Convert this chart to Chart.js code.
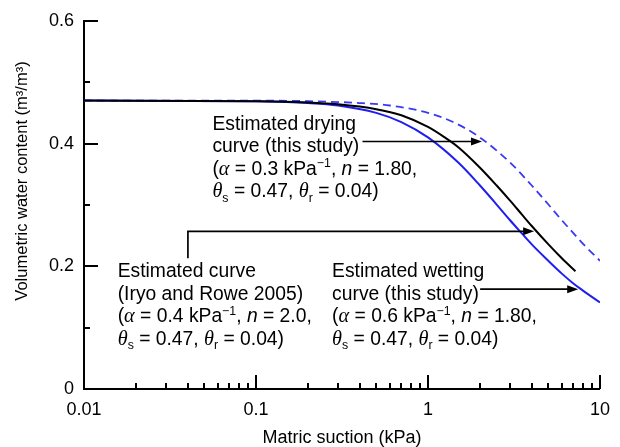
<!DOCTYPE html>
<html><head><meta charset="utf-8">
<script src="https://cdn.jsdelivr.net/npm/chart.js@4.4.1/dist/chart.umd.min.js"></script>
<style>html,body{margin:0;padding:0;background:#fff;}#wrap{width:620px;height:447px;}</style>
</head><body><div id="wrap"><canvas id="c" width="620" height="447"></canvas></div>
<script>
// ---- tick values / labels ----
const suctionTicks = [0.01, 0.1, 1, 10];
const suctionTickLabels = ['0.01', '0.1', '1', '10'];
const suctionMinorTicks = [0.02,0.03,0.04,0.05,0.06,0.07,0.08,0.09,0.2,0.3,0.4,0.5,0.6,0.7,0.8,0.9,2,3,4,5,6,7,8,9];
const thetaTicks = [0, 0.2, 0.4, 0.6];
const thetaTickLabels = ['0', '0.2', '0.4', '0.6'];
const thetaMinorTicks = [0.1, 0.3, 0.5];

// ---- series ----
const wettingSuction = [0.01, 0.1, 0.2, 0.3, 0.5, 0.7, 1, 1.5, 2, 2.5, 3, 3.5, 4, 5, 6, 7, 8, 10];
const wettingTheta   = [0.470, 0.469, 0.466, 0.462, 0.450, 0.435, 0.410, 0.369, 0.332, 0.301, 0.275, 0.254, 0.236, 0.209, 0.188, 0.172, 0.160, 0.141];

const iryoSuction = [0.01, 0.1, 0.2, 0.3, 0.5, 0.7, 1, 1.25, 1.5, 2, 2.5, 3, 3.5, 4, 5, 6, 7.2];
const iryoTheta   = [0.470, 0.469, 0.467, 0.464, 0.456, 0.446, 0.427, 0.410, 0.394, 0.361, 0.332, 0.307, 0.285, 0.266, 0.236, 0.213, 0.192];

const dryingSuction = [0.01, 0.1, 0.2, 0.4, 0.6, 1, 1.4, 2, 3, 4, 5, 6, 7, 8, 10];
const dryingTheta   = [0.470, 0.470, 0.469, 0.466, 0.462, 0.450, 0.435, 0.410, 0.369, 0.332, 0.301, 0.275, 0.254, 0.236, 0.209];

const xTitle = 'Matric suction (kPa)';
const yTitle = 'Volumetric water content (m\u00B3/m\u00B3)';

// annotation texts (runs: [text, style])
const dryingLabel = [
  [['Estimated drying', '']],
  [['curve (this study)', '']],
  [['(', ''], ['\u03B1', 'g'], [' = 0.3 kPa', ''], ['\u22121', 'sup'], [', ', ''], ['n', 'i'], [' = 1.80,', '']],
  [['\u03B8', 'g'], ['s', 'sub'], [' = 0.47, ', ''], ['\u03B8', 'g'], ['r', 'sub'], [' = 0.04)', '']]
];
const iryoLabel = [
  [['Estimated curve', '']],
  [['(Iryo and Rowe 2005)', '']],
  [['(', ''], ['\u03B1', 'g'], [' = 0.4 kPa', ''], ['\u22121', 'sup'], [', ', ''], ['n', 'i'], [' = 2.0,', '']],
  [['\u03B8', 'g'], ['s', 'sub'], [' = 0.47, ', ''], ['\u03B8', 'g'], ['r', 'sub'], [' = 0.04)', '']]
];
const wettingLabel = [
  [['Estimated wetting', '']],
  [['curve (this study)', '']],
  [['(', ''], ['\u03B1', 'g'], [' = 0.6 kPa', ''], ['\u22121', 'sup'], [', ', ''], ['n', 'i'], [' = 1.80,', '']],
  [['\u03B8', 'g'], ['s', 'sub'], [' = 0.47, ', ''], ['\u03B8', 'g'], ['r', 'sub'], [' = 0.04)', '']]
];

// annotation anchors in data space (suction, theta)
const notes = [
  { lines: dryingLabel,  x: 0.0558, y: 0.4228 },
  { lines: iryoLabel,    x: 0.0157, y: 0.1821 },
  { lines: wettingLabel, x: 0.277,  y: 0.1821 }
];
const arrows = [
  [[0.416, 0.4033], [2.06, 0.4033]],
  [[0.0402, 0.213], [0.0402, 0.2569], [4.14, 0.2569]],
  [[2.01, 0.1626], [7.47, 0.1626]]
];

const SANS = '"Liberation Sans", Arial, sans-serif';
const SERIF = '"Liberation Serif", "Times New Roman", serif';
const FS = 19.3;

function toPts(xs, ys) { return xs.map((x, i) => ({ x: x, y: ys[i] })); }

function drawRich(ctx, runs, x, y, size) {
  let cx = x;
  for (const [t, st] of runs) {
    let fs = size, dy = 0, fam = SANS, it = '';
    if (st === 'sup') { fs = size * 0.64; dy = -size * 0.38; }
    if (st === 'sub') { fs = size * 0.64; dy = size * 0.24; }
    if (st === 'g') { fam = SERIF; it = 'italic '; fs = size * 1.05; }
    if (st === 'i') { it = 'italic '; }
    ctx.font = it + fs + 'px ' + fam;
    ctx.fillText(t, cx, y + dy);
    cx += ctx.measureText(t).width;
  }
}

const decorPlugin = {
  id: 'decor',
  afterDraw(chart) {
    const ctx = chart.ctx, xs = chart.scales.x, ys = chart.scales.y;
    const a = chart.chartArea;
    ctx.save();
    ctx.strokeStyle = '#000'; ctx.fillStyle = '#000';
    // inward ticks
    ctx.lineWidth = 2;
    ctx.beginPath();
    for (const v of thetaTicks) { const p = Math.round(ys.getPixelForValue(v)); ctx.moveTo(a.left, p); ctx.lineTo(a.left + 14, p); }
    for (const v of thetaMinorTicks) { const p = Math.round(ys.getPixelForValue(v)); ctx.moveTo(a.left, p); ctx.lineTo(a.left + 6, p); }
    for (const v of suctionTicks) { const p = Math.round(xs.getPixelForValue(v)); ctx.moveTo(p, a.bottom); ctx.lineTo(p, a.bottom - 14); }
    for (const v of suctionMinorTicks) { const p = Math.round(xs.getPixelForValue(v)); ctx.moveTo(p, a.bottom); ctx.lineTo(p, a.bottom - 6); }
    ctx.stroke();

    // titles
    ctx.textAlign = 'center'; ctx.textBaseline = 'middle';
    ctx.font = '18px ' + SANS;
    ctx.fillText(xTitle, (a.left + a.right) / 2, 438);
    ctx.save();
    ctx.translate(22, 181); ctx.rotate(-Math.PI / 2);
    ctx.font = '16.5px ' + SANS;
    ctx.fillText(yTitle, 0, 0);
    ctx.restore();

    // arrows
    ctx.lineWidth = 1.7;
    for (const path of arrows) {
      const pts = path.map(p => [xs.getPixelForValue(p[0]), ys.getPixelForValue(p[1])]);
      ctx.beginPath();
      ctx.moveTo(pts[0][0], pts[0][1]);
      for (let i = 1; i < pts.length; i++) {
        const last = i === pts.length - 1;
        ctx.lineTo(last ? pts[i][0] - 8 : pts[i][0], pts[i][1]);
      }
      ctx.stroke();
      const tip = pts[pts.length - 1];
      ctx.beginPath();
      ctx.moveTo(tip[0], tip[1]);
      ctx.lineTo(tip[0] - 11, tip[1] - 4);
      ctx.lineTo(tip[0] - 11, tip[1] + 4);
      ctx.closePath(); ctx.fill();
    }

    // annotation texts
    ctx.textAlign = 'left'; ctx.textBaseline = 'alphabetic';
    for (const n of notes) {
      const x0 = xs.getPixelForValue(n.x), y0 = ys.getPixelForValue(n.y);
      n.lines.forEach((ln, i) => drawRich(ctx, ln, x0, y0 + i * 22.5, FS));
    }
    ctx.restore();
  }
};

const tickFont = { family: SANS, size: 18 };

new Chart(document.getElementById('c'), {
  type: 'line',
  data: {
    datasets: [
      { data: toPts(iryoSuction, iryoTheta), borderColor: '#000000', borderWidth: 2, pointRadius: 0, cubicInterpolationMode: 'monotone', fill: false, order: 1 },
      { data: toPts(wettingSuction, wettingTheta), borderColor: '#1f1ff0', borderWidth: 2, pointRadius: 0, cubicInterpolationMode: 'monotone', fill: false, order: 2 },
      { data: toPts(dryingSuction, dryingTheta), borderColor: '#3a3af5', borderWidth: 1.8, borderDash: [8, 5], pointRadius: 0, cubicInterpolationMode: 'monotone', fill: false, order: 3 }
    ]
  },
  options: {
    responsive: false, animation: false, devicePixelRatio: 1,
    layout: { padding: { left: 0, right: 10, top: 20, bottom: 0 } },
    plugins: { legend: { display: false }, tooltip: { enabled: false } },
    scales: {
      x: {
        type: 'logarithmic', min: 0.01, max: 10, position: 'bottom',
        grid: { display: false, drawTicks: false },
        border: { display: true, color: '#000', width: 2 },
        ticks: { autoSkip: false, maxRotation: 0, padding: 10, color: '#000', font: tickFont,
                 callback: (v, i) => suctionTickLabels[i] },
        afterBuildTicks: s => { s.ticks = suctionTicks.map(v => ({ value: v })); },
        afterFit: s => { s.height = 58; }
      },
      y: {
        type: 'linear', min: 0, max: 0.6, position: 'left',
        grid: { display: false, drawTicks: false },
        border: { display: true, color: '#000', width: 2 },
        ticks: { autoSkip: false, padding: 10, color: '#000', font: tickFont,
                 callback: (v, i) => thetaTickLabels[i] },
        afterBuildTicks: s => { s.ticks = thetaTicks.map(v => ({ value: v })); },
        afterFit: s => { s.width = 84; }
      }
    }
  },
  plugins: [decorPlugin]
});
</script></body></html>
